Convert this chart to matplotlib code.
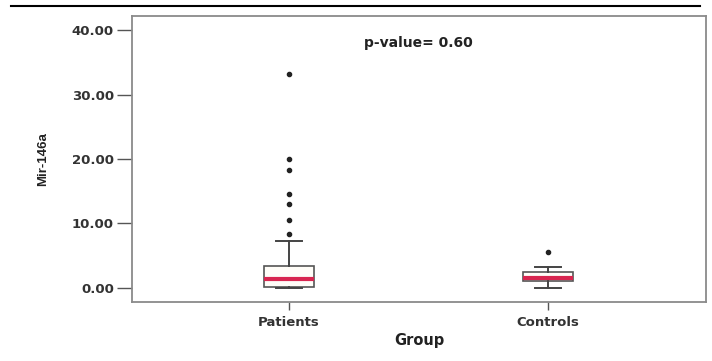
import matplotlib
matplotlib.use("Agg")
import matplotlib.pyplot as plt
from matplotlib.lines import Line2D
from matplotlib.ticker import FormatStrFormatter

plt.rcParams['font.family'] = ['DejaVu Sans']

# values (Mir-146a by group)
groups = ["Patients", "Controls"]
whislo = [0.0, 0.0]
q1 = [0.2, 1.1]
med = [1.4, 1.6]
q3 = [3.4, 2.5]
whishi = [7.2, 3.2]
fliers = [[8.4, 10.6, 13.0, 14.5, 18.3, 20.0, 33.2], [5.5]]
p_text = "p-value= 0.60"

stats = []
for i, g in enumerate(groups):
    stats.append(dict(label=g, whislo=whislo[i], q1=q1[i], med=med[i],
                      q3=q3[i], whishi=whishi[i], fliers=fliers[i]))

fig = plt.figure(figsize=(7.12, 3.61), dpi=100)
ax = fig.add_axes([132 / 712, 1 - 302 / 361, 574 / 712, 286 / 361])

ax.bxp(stats, positions=[1, 2], widths=0.19, patch_artist=True,
       boxprops=dict(facecolor="#fffdf8", edgecolor="#555555", linewidth=1.2),
       whiskerprops=dict(color="#444444", linewidth=1.4),
       capprops=dict(color="#444444", linewidth=1.4),
       capwidths=0.1,
       medianprops=dict(color="#d8254f", linewidth=3),
       flierprops=dict(marker="o", markerfacecolor="#222222",
                       markeredgecolor="#222222", markersize=3))

ax.set_xlim(0.394, 2.61)
ax.set_ylim(-2.2, 42.2)
ax.set_yticks([0, 10, 20, 30, 40])
ax.yaxis.set_major_formatter(FormatStrFormatter("%.2f"))

for s in ax.spines.values():
    s.set_color("#8a8a8a")
    s.set_linewidth(1.3)

ax.tick_params(axis="y", length=11, width=1, color="#555555", pad=2,
               labelsize=9.5, labelcolor="#333333")
ax.tick_params(axis="x", length=6, width=1, color="#555555", pad=4,
               labelsize=9.5, labelcolor="#333333")
for lab in ax.get_yticklabels() + ax.get_xticklabels():
    lab.set_fontweight("bold")

ax.set_xlabel("Group", fontsize=10.5, fontweight="bold", color="#222222", labelpad=3)
ax.set_ylabel("Mir-146a", fontsize=9.5, fontweight="bold", color="#222222",
              labelpad=16, family="Liberation Sans")

ax.text(1.5, 38.0, p_text, ha="center", va="center", fontsize=10,
        fontweight="bold", color="#222222")

fig.add_artist(Line2D([11 / 712, 700 / 712], [1 - 6 / 361, 1 - 6 / 361],
                      color="black", linewidth=1.5))

fig.savefig("out.png", dpi=100)
